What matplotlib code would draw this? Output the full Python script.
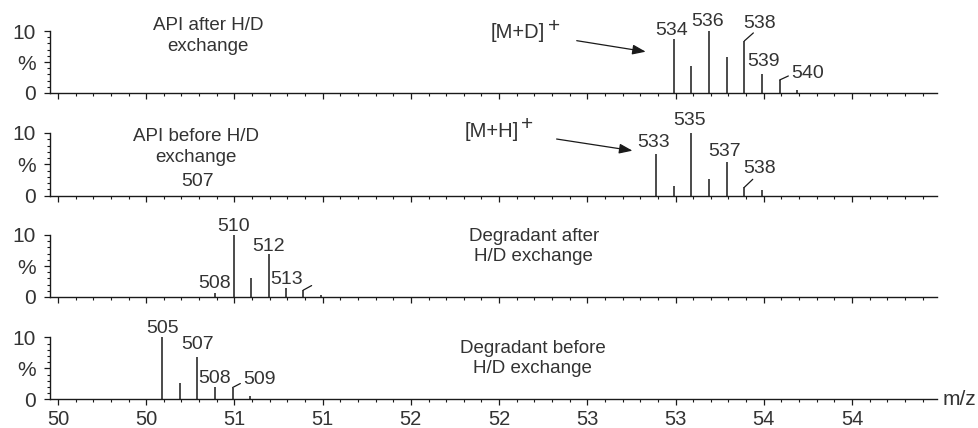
import matplotlib
matplotlib.use("Agg")
import matplotlib.pyplot as plt
from matplotlib.ticker import MultipleLocator

plt.rcParams['font.family'] = ['Liberation Sans', 'DejaVu Sans']

# ---------------- data ----------------
# panel 1: API after H/D exchange
p1_mz = [534.9, 535.9, 536.9, 537.9, 538.9, 539.9, 540.9, 541.9]
p1_int = [8.66, 4.35, 10.0, 5.85, 8.4, 3.06, 2.1, 0.5]
p1_lab = ["534", "", "536", "", "538", "539", "540", ""]

# panel 2: API before H/D exchange
p2_mz = [507.9, 533.9, 534.9, 535.9, 536.9, 537.9, 538.9, 539.9]
p2_int = [0.0, 6.73, 1.56, 10.0, 2.6, 5.45, 1.34, 0.9]
p2_lab = ["507", "533", "", "535", "", "537", "538", ""]

# panel 3: Degradant after H/D exchange
p3_mz = [508.9, 509.95, 510.95, 511.95, 512.95, 513.9, 514.9]
p3_int = [0.6, 10.0, 3.06, 6.9, 1.45, 1.1, 0.3]
p3_lab = ["508", "510", "", "512", "513", "", ""]

# panel 4: Degradant before H/D exchange
p4_mz = [505.9, 506.9, 507.9, 508.9, 509.9, 510.9]
p4_int = [10.0, 2.6, 6.9, 2.0, 1.9, 0.5]
p4_lab = ["505", "", "507", "508", "509", ""]

titles = ["API after H/D\nexchange", "API before H/D\nexchange",
          "Degradant after\nH/D exchange", "Degradant before\nH/D exchange"]
ion_labels = ["[M+D]", "[M+H]", None, None]

xtick_vals = [500, 505, 510, 515, 520, 525, 530, 535, 540, 545]
xtick_labels = ["50", "50", "51", "51", "52", "52", "53", "53", "54", "54"]
ytick_vals = [0, 5, 10]
ytick_labels = ["0", "%", "10"]
x_unit = "m/z"

# ---------------- layout ----------------
W, H = 979, 428
LINE = '#1a1a1a'
TXT = '#333333'
FS = 14
PX = 0.72  # points per pixel at dpi 100

panels = [
    dict(mz=p1_mz, it=p1_int, lab=p1_lab, y10=31.0, y0=93.0,
         off={"534": (-2, -9.3), "536": (-2, -9.3), "538": (15.3, -17), "539": (1.3, -12.3), "540": (27.7, -6)},
         hooks={4: (9, -8), 6: (8.7, -4)},
         title_xy=(508.5, 9.2), ion_xy=(526.08, 9.68), plus_xy=(528.1, 10.75),
         arrow=((529.4, 8.44), (533.31, 6.66))),
    dict(mz=p2_mz, it=p2_int, lab=p2_lab, y10=133.0, y0=195.7,
         off={"507": (0.7, -13.7), "533": (-2.4, -10.6), "535": (-2, -12.7), "537": (-1.7, -9.6), "538": (15, -18.3)},
         hooks={6: (8.4, -8)},
         title_xy=(507.83, 7.75), ion_xy=(524.6, 10.3), plus_xy=(526.6, 11.35),
         arrow=((528.26, 9.04), (532.56, 7.18))),
    dict(mz=p3_mz, it=p3_int, lab=p3_lab, y10=235.0, y0=297.0,
         off={"508": (0, -9.3), "510": (0, -8.3), "512": (0, -7.3), "513": (0, -9)},
         hooks={5: (8.4, -4.6)},
         title_xy=(526.96, 8.1), ion_xy=None, plus_xy=None, arrow=None),
    dict(mz=p4_mz, it=p4_int, lab=p4_lab, y10=337.3, y0=399.3,
         off={"505": (0, -9), "507": (0, -12.3), "508": (0, -8), "509": (26.7, -8.3)},
         hooks={4: (7.7, -4)},
         title_xy=(526.9, 6.55), ion_xy=None, plus_xy=None, arrow=None),
]

fig = plt.figure(figsize=(W / 100, H / 100), dpi=100)
left_px, right_px = 50.0, 936.7

for i, p in enumerate(panels):
    ax = fig.add_axes([left_px / W, 1 - p['y0'] / H,
                       (right_px - left_px) / W, (p['y0'] - p['y10']) / H])
    ax.set_xlim(499.55, 549.8)
    ax.set_ylim(0, 10)
    for s in ['top', 'right']:
        ax.spines[s].set_visible(False)
    ax.spines['left'].set_bounds(0, 10)
    for s in ['left', 'bottom']:
        ax.spines[s].set_color(LINE)
        ax.spines[s].set_linewidth(1.0)

    ax.set_xticks(xtick_vals)
    ax.xaxis.set_minor_locator(MultipleLocator(1))
    ax.set_yticks(ytick_vals)
    ax.set_yticklabels(ytick_labels)
    ax.yaxis.set_minor_locator(MultipleLocator(1))
    ax.tick_params(axis='x', which='major', length=4.5, width=0.9, color=LINE, direction='out')
    ax.tick_params(axis='x', which='minor', length=2.2, width=0.8, color=LINE, direction='out')
    ax.tick_params(axis='y', which='major', length=4.5, width=0.9, color=LINE, direction='out',
                   labelsize=15, labelcolor=TXT, pad=6)
    ax.tick_params(axis='y', which='minor', length=2.5, width=0.8, color=LINE, direction='out')
    if i == 3:
        ax.set_xticklabels(xtick_labels)
        ax.tick_params(axis='x', which='major', labelsize=14.5, labelcolor=TXT, pad=3)
        ax.text(1.007, 0, x_unit, transform=ax.transAxes, ha='left', va='center',
                fontsize=15, color=TXT)
    else:
        ax.tick_params(axis='x', labelbottom=False)
    ax.patch.set_alpha(0)

    ax.vlines(p['mz'], 0, p['it'], color=LINE, lw=1.1, clip_on=False)

    for j, (m, h, lab) in enumerate(zip(p['mz'], p['it'], p['lab'])):
        if j in p['hooks']:
            dx, dy = p['hooks'][j]
            ax.annotate("", xy=(m, h), xytext=(dx * PX, -dy * PX), textcoords='offset points',
                        arrowprops=dict(arrowstyle='-', color=LINE, lw=0.9, shrinkA=0, shrinkB=0),
                        annotation_clip=False)
        if lab:
            dx, dy = p['off'].get(lab, (0, -10))
            ax.annotate(lab, xy=(m, h), xytext=(dx * PX, -dy * PX), textcoords='offset points',
                        ha='center', va='center', fontsize=FS, color=TXT, annotation_clip=False)

    ax.text(p['title_xy'][0], p['title_xy'][1], titles[i], ha='center', va='center',
            fontsize=13.5, color=TXT, linespacing=1.25, clip_on=False)
    if ion_labels[i]:
        ax.text(p['ion_xy'][0], p['ion_xy'][1], ion_labels[i], ha='center', va='center',
                fontsize=14.5, color=TXT, clip_on=False)
        ax.text(p['plus_xy'][0], p['plus_xy'][1], "+", ha='center', va='center',
                fontsize=15, color=TXT, clip_on=False)
        (x0, y0), (x1, y1) = p['arrow']
        ax.annotate("", xy=(x1, y1), xytext=(x0, y0),
                    arrowprops=dict(arrowstyle='-|>,head_length=0.8,head_width=0.3',
                                    color=LINE, lw=0.9, shrinkA=0, shrinkB=0),
                    annotation_clip=False)

fig.savefig("out.png", dpi=100)
